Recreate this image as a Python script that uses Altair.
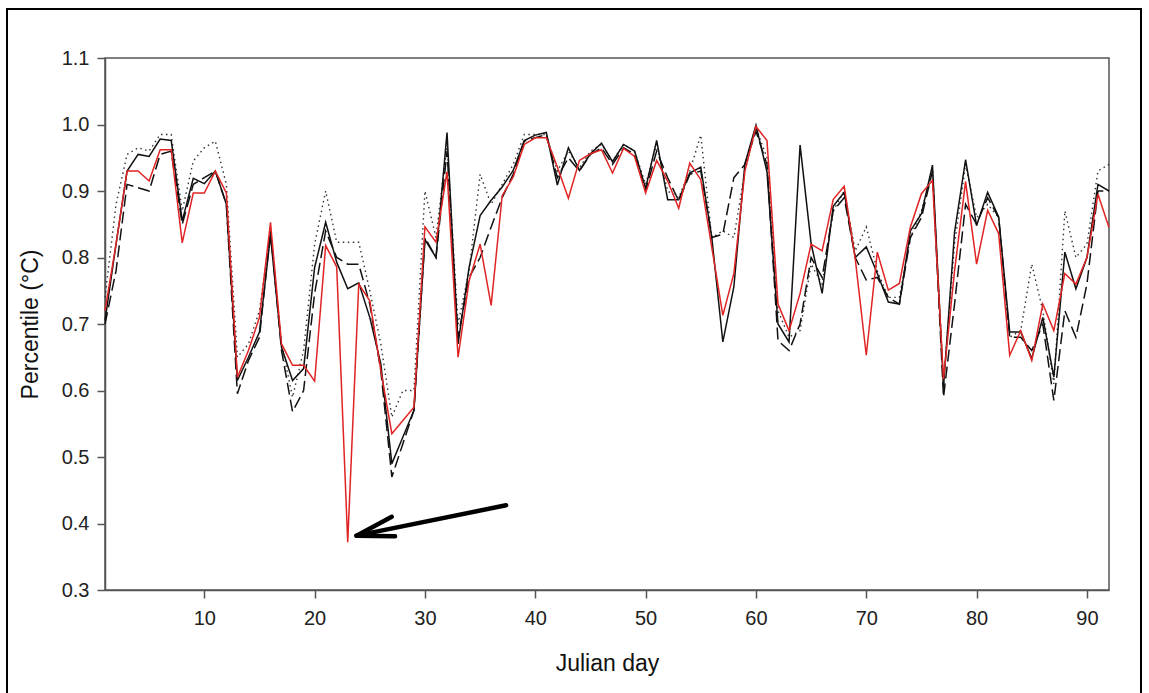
import altair as alt
import pandas as pd

DAYS = list(range(1, 93))

BLACK = [0.705, 0.82, 0.93, 0.955, 0.952, 0.978, 0.976, 0.855, 0.919, 0.911,
         0.93, 0.88, 0.615, 0.65, 0.688, 0.833, 0.665, 0.615, 0.633, 0.785,
         0.853, 0.793, 0.753, 0.762, 0.71, 0.64, 0.49, 0.53, 0.57, 0.827,
         0.80, 0.988, 0.67, 0.785, 0.863, 0.886, 0.906, 0.931, 0.976, 0.984,
         0.988, 0.909, 0.965, 0.931, 0.956, 0.972, 0.944, 0.97, 0.96, 0.904,
         0.976, 0.887, 0.887, 0.927, 0.936, 0.83, 0.673, 0.756, 0.941, 0.999,
         0.929, 0.70, 0.673, 0.969, 0.821, 0.746, 0.877, 0.898, 0.80, 0.816,
         0.776, 0.733, 0.73, 0.84, 0.866, 0.939, 0.605, 0.838, 0.947, 0.848,
         0.898, 0.861, 0.688, 0.688, 0.648, 0.71, 0.62, 0.808, 0.753, 0.80,
         0.91, 0.90]

RED = [0.72, 0.82, 0.93, 0.93, 0.915, 0.962, 0.962, 0.822, 0.897, 0.897,
       0.93, 0.897, 0.62, 0.66, 0.71, 0.853, 0.67, 0.638, 0.638, 0.614,
       0.818, 0.786, 0.372, 0.76, 0.735, 0.63, 0.535, 0.555, 0.575, 0.846,
       0.823, 0.929, 0.65, 0.765, 0.82, 0.728, 0.893, 0.921, 0.97, 0.98,
       0.98, 0.936, 0.889, 0.946, 0.956, 0.962, 0.927, 0.964, 0.952, 0.897,
       0.946, 0.915, 0.874, 0.942, 0.917, 0.815, 0.713, 0.776, 0.93, 0.997,
       0.976, 0.73, 0.69, 0.746, 0.82, 0.81, 0.887, 0.907, 0.798, 0.653,
       0.808, 0.751, 0.761, 0.846, 0.896, 0.916, 0.617, 0.78, 0.914, 0.79,
       0.871, 0.836, 0.653, 0.69, 0.645, 0.73, 0.69, 0.776, 0.76, 0.80,
       0.895, 0.845]

DASHED = [0.70, 0.78, 0.91, 0.905, 0.90, 0.955, 0.96, 0.85, 0.91, 0.92,
          0.93, 0.88, 0.595, 0.645, 0.68, 0.84, 0.66, 0.568, 0.60, 0.746,
          0.84, 0.80, 0.79, 0.79, 0.73, 0.63, 0.47, 0.52, 0.57, 0.83,
          0.80, 0.96, 0.68, 0.77, 0.80, 0.846, 0.89, 0.925, 0.975, 0.98,
          0.985, 0.92, 0.95, 0.93, 0.955, 0.965, 0.94, 0.965, 0.955, 0.90,
          0.96, 0.92, 0.885, 0.925, 0.93, 0.83, 0.835, 0.92, 0.94, 0.99,
          0.94, 0.675, 0.66, 0.70, 0.80, 0.77, 0.87, 0.89, 0.80, 0.766,
          0.77, 0.74, 0.73, 0.83, 0.86, 0.93, 0.59, 0.73, 0.88, 0.85,
          0.89, 0.86, 0.68, 0.68, 0.66, 0.70, 0.585, 0.72, 0.68, 0.76,
          0.90, 0.90]

DOTTED = [0.74, 0.88, 0.955, 0.965, 0.96, 0.985, 0.985, 0.87, 0.945, 0.965,
          0.975, 0.91, 0.65, 0.67, 0.72, 0.84, 0.67, 0.59, 0.66, 0.82,
          0.90, 0.823, 0.823, 0.823, 0.75, 0.67, 0.56, 0.60, 0.60, 0.90,
          0.83, 0.97, 0.70, 0.78, 0.925, 0.88, 0.91, 0.94, 0.985, 0.985,
          0.985, 0.93, 0.96, 0.935, 0.96, 0.97, 0.945, 0.97, 0.96, 0.91,
          0.97, 0.90, 0.89, 0.93, 0.984, 0.83, 0.84, 0.83, 0.93, 0.995,
          0.95, 0.72, 0.68, 0.69, 0.79, 0.76, 0.87, 0.90, 0.81, 0.846,
          0.78, 0.74, 0.74, 0.83, 0.87, 0.93, 0.61, 0.82, 0.94, 0.86,
          0.88, 0.86, 0.68, 0.69, 0.79, 0.72, 0.61, 0.87, 0.80, 0.82,
          0.93, 0.94]

# Annotation arrow (data units): shaft and two barbs, each a 2-point segment
ARROW_X = [37.35, 23.8, 26.99, 23.8, 27.29, 23.8]
ARROW_Y = [0.4274, 0.3817, 0.410, 0.3817, 0.3807, 0.3817]
ARROW_PART = ["shaft", "shaft", "barb1", "barb1", "barb2", "barb2"]
ARROW_ORDER = [0, 1, 0, 1, 0, 1]

X_TICKS = [10, 20, 30, 40, 50, 60, 70, 80, 90]
Y_TICKS = [0.3, 0.4, 0.5, 0.6, 0.7, 0.8, 0.9, 1.0, 1.1]

df = pd.DataFrame({"day": DAYS, "black": BLACK, "red": RED,
                   "dashed": DASHED, "dotted": DOTTED})
arrow_df = pd.DataFrame({"x": ARROW_X, "y": ARROW_Y, "part": ARROW_PART, "o": ARROW_ORDER})

FONT = "Liberation Sans"

xs = alt.Scale(domain=[1, 92], nice=False, zero=False)
ys = alt.Scale(domain=[0.3, 1.1], nice=False, zero=False)

x_axis = alt.Axis(values=X_TICKS, title="Julian day", titleY=73, titleBaseline="middle",
                  labelPadding=10, labelOverlap=False)
y_axis = alt.Axis(values=Y_TICKS, format=".1f", title="Percentile (°C)",
                  titleX=-75, titleBaseline="middle", labelPadding=8, labelOverlap=False)


def series(col, color, dash, width):
    props = dict(color=color, strokeWidth=width)
    if dash:
        props["strokeDash"] = dash
    return alt.Chart(df).mark_line(**props).encode(
        x=alt.X("day:Q", scale=xs, axis=x_axis),
        y=alt.Y(f"{col}:Q", scale=ys, axis=y_axis),
    )


dotted = series("dotted", "#333333", [1.5, 3.5], 1.4)
dashed = series("dashed", "#111111", [12, 5], 1.5)
black = series("black", "#111111", None, 1.5)
red = series("red", "#e02424", None, 1.5)

arrow = alt.Chart(arrow_df).mark_line(color="black", strokeWidth=4.5, strokeCap="round").encode(
    x=alt.X("x:Q", scale=xs),
    y=alt.Y("y:Q", scale=ys),
    detail="part:N",
    order="o:Q",
)

frame = alt.Chart(df).mark_rect(fill=None, stroke="black", strokeWidth=1.5, clip=False).encode(
    x=alt.value(-98), x2=alt.value(1036), y=alt.value(-49), y2=alt.value(660)
)

chart = alt.layer(frame, dotted, dashed, black, red, arrow).properties(
    width=1004, height=532,
    autosize=alt.AutoSizeParams(type="none"),
    padding={"left": 105, "top": 58, "right": 40, "bottom": 103},
    background="white",
).configure_view(
    stroke="#555555", strokeWidth=1.5
).configure_axis(
    labelFont=FONT, labelFontSize=20, labelColor="#222222",
    titleFont=FONT, titleFontSize=23, titleFontWeight="normal", titleColor="#111111",
    domainColor="#555555", domainWidth=1.5, tickColor="#555555", tickWidth=1.5,
    tickSize=8, grid=False,
)

chart.save("out.html", embed_options={"renderer": "svg", "actions": False})
